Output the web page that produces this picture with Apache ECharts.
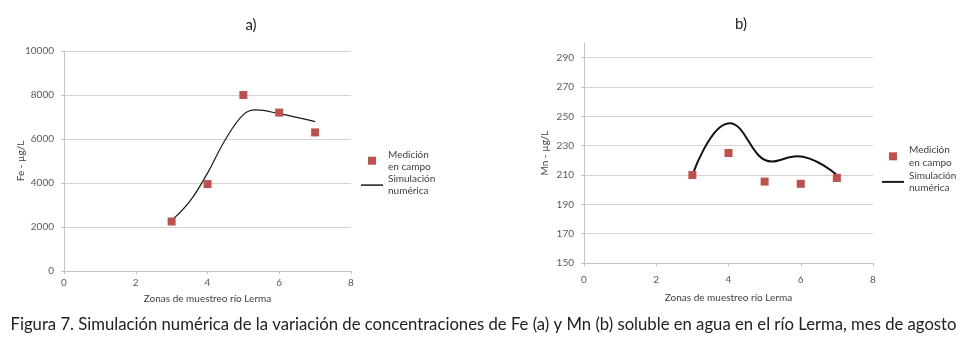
<!DOCTYPE html>
<html>
<head>
<meta charset="utf-8">
<script src="https://cdn.jsdelivr.net/npm/echarts@6/dist/echarts.min.js"></script>
<style>html,body{margin:0;padding:0;background:#fff}#c{width:967px;height:338px}</style>
</head>
<body>
<div id="c"></div>
<script>
// Data
const zonas = [3, 4, 5, 6, 7];
const feMedicion = [2250, 3950, 8000, 7200, 6300];
// simulated curve
const feSimX = [3, 3.5, 4, 4.5, 5, 5.35, 6, 7];
const feSimulacion = [2300, 3150, 4450, 5980, 7110, 7320, 7150, 6790];
const mnMedicion = [210, 225, 205.5, 204, 208];
const mnSimX = [3, 4.03, 5.2, 5.9, 7];
const mnSimulacion = [210, 245.3, 219.2, 222.8, 210];
const xTicks = [0, 2, 4, 6, 8];
const feTicks = [0, 2000, 4000, 6000, 8000, 10000];
const mnTicks = [150, 170, 190, 210, 230, 250, 270, 290];
const nameMed = 'Medición\nen campo';
const nameSim = 'Simulación\nnumérica';
const xName = 'Zonas de muestreo río Lerma';
const caption = 'Figura 7. Simulación numérica de la variación de concentraciones de Fe (a) y Mn (b) soluble en agua en el río Lerma, mes de agosto';

const pairs = (xs, ys) => xs.map((x, i) => [x, ys[i]]);
const FONT = 'Lato';
const red = '#C0504D';
const gridColor = '#d4d4d4';
const axisColor = '#c4c4c4';

const chart = echarts.init(document.getElementById('c'), null, {renderer: 'canvas'});

function xAxisDef(gridIndex, margin, nameGap) {
  return {
    type: 'value', gridIndex, min: xTicks[0], max: xTicks[xTicks.length - 1], interval: 2,
    name: xName, nameLocation: 'middle', nameGap, nameMoveOverlap: false,
    nameTextStyle: {fontFamily: FONT, fontSize: 10, color: '#404040'},
    axisLine: {show: true, onZero: false, lineStyle: {color: axisColor, width: 1}},
    axisTick: {show: true, length: 3, lineStyle: {color: axisColor}},
    axisLabel: {fontFamily: FONT, fontSize: 10, color: '#595959', margin},
    splitLine: {show: false}
  };
}
const plain = v => String(v);

const option = {
  animation: false,
  title: [
    {text: 'a)', left: 251, top: 25, padding: 0, textAlign: 'center', textVerticalAlign: 'middle',
     textStyle: {fontFamily: FONT, fontSize: 15, fontWeight: 'normal', color: '#222'}},
    {text: 'b)', left: 741, top: 24, padding: 0, textAlign: 'center', textVerticalAlign: 'middle',
     textStyle: {fontFamily: FONT, fontSize: 15, fontWeight: 'normal', color: '#222'}},
    {text: caption, left: 'center', top: 316, padding: 0,
     textStyle: {fontFamily: FONT, fontSize: 16.7, fontWeight: 'normal', color: '#222'}}
  ],
  grid: [
    {left: 64, top: 51, width: 287, height: 220, containLabel: false},
    {left: 584, top: 43, width: 289, height: 220, containLabel: false}
  ],
  xAxis: [xAxisDef(0, 7, 23), xAxisDef(1, 12, 30)],
  yAxis: [
    {
      type: 'value', gridIndex: 0, min: feTicks[0], max: feTicks[feTicks.length - 1], interval: 2000,
      name: 'Fe - µg/L', nameLocation: 'middle', nameGap: 38, nameMoveOverlap: false,
      nameTextStyle: {fontFamily: FONT, fontSize: 10, color: '#404040'},
      axisLine: {show: true, lineStyle: {color: axisColor}},
      axisTick: {show: true, length: 3, lineStyle: {color: axisColor}},
      axisLabel: {fontFamily: FONT, fontSize: 10, color: '#595959', margin: 10, formatter: plain},
      splitLine: {show: true, lineStyle: {color: gridColor}}
    },
    {
      type: 'value', gridIndex: 1, min: mnTicks[0], max: 300, interval: 20,
      name: 'Mn - µg/L', nameLocation: 'middle', nameGap: 34, nameMoveOverlap: false,
      nameTextStyle: {fontFamily: FONT, fontSize: 10, color: '#404040'},
      axisLine: {show: true, lineStyle: {color: axisColor}},
      axisTick: {show: true, length: 3, lineStyle: {color: axisColor}},
      axisLabel: {fontFamily: FONT, fontSize: 10, color: '#595959', margin: 10, showMaxLabel: false, formatter: plain},
      splitLine: {show: true, showMaxLine: false, lineStyle: {color: gridColor}}
    }
  ],
  legend: [
    {
      left: 361, top: 149, padding: 0, orient: 'vertical', itemGap: 1, itemWidth: 22, itemHeight: 8,
      selectedMode: false, symbolKeepAspect: true,
      textStyle: {fontFamily: FONT, fontSize: 10, color: '#404040', lineHeight: 11.7},
      data: [
        {name: nameMed, icon: 'path://M0,0L8,0L8,8L0,8Z'},
        {name: nameSim, icon: 'path://M0,0L22,0L22,1.5L0,1.5Z'}
      ]
    },
    {
      left: 882, top: 144, padding: 0, orient: 'vertical', itemGap: 1, itemWidth: 22, itemHeight: 8,
      selectedMode: false, symbolKeepAspect: true,
      textStyle: {fontFamily: FONT, fontSize: 10, color: '#404040', lineHeight: 12.3},
      data: [
        {name: nameMed, icon: 'path://M0,0L8,0L8,8L0,8Z'},
        {name: nameSim, icon: 'path://M0,0L22,0L22,2L0,2Z'}
      ]
    }
  ],
  series: [
    {
      name: nameSim, type: 'line', xAxisIndex: 0, yAxisIndex: 0, smooth: 0.4, symbol: 'none',
      data: pairs(feSimX, feSimulacion), z: 2,
      lineStyle: {color: '#1a1a1a', width: 1.2}, itemStyle: {color: '#1a1a1a'}
    },
    {
      name: nameMed, type: 'scatter', xAxisIndex: 0, yAxisIndex: 0, symbol: 'rect', symbolSize: 8,
      data: pairs(zonas, feMedicion), z: 3, itemStyle: {color: red, opacity: 1}
    },
    {
      name: nameSim, type: 'line', xAxisIndex: 1, yAxisIndex: 1, smooth: 0.45, symbol: 'none',
      data: pairs(mnSimX, mnSimulacion), z: 2,
      lineStyle: {color: '#111', width: 2}, itemStyle: {color: '#111'}
    },
    {
      name: nameMed, type: 'scatter', xAxisIndex: 1, yAxisIndex: 1, symbol: 'rect', symbolSize: 8,
      data: pairs(zonas, mnMedicion), z: 3, itemStyle: {color: red, opacity: 1}
    }
  ]
};
chart.setOption(option);
</script>
</body>
</html>
